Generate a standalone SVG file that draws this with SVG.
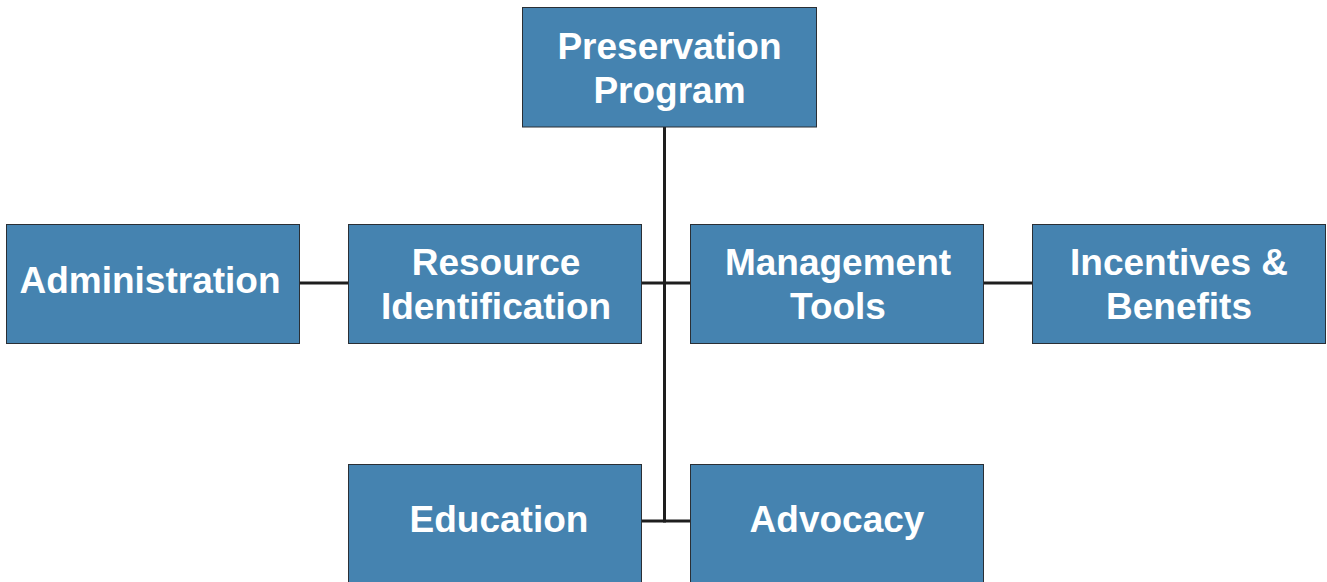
<svg xmlns="http://www.w3.org/2000/svg" width="1327" height="582" viewBox="0 0 1327 582">
  <style>
    .box { fill: #4583b0; stroke: #2a2f35; stroke-width: 1; }
    .lbl { fill: #ffffff; font-family: "Liberation Sans", Arial, sans-serif; font-weight: bold; font-size: 37px; text-anchor: middle; }
    .wire { stroke: #1e1e1e; stroke-width: 3; fill: none; }
  </style>
  <rect width="1327" height="582" fill="#ffffff"/>

  <!-- connectors -->
  <g id="connectors">
    <line class="wire" x1="664.5" y1="127" x2="664.5" y2="522.5"/>
    <line class="wire" x1="299" y1="283" x2="348.5" y2="283"/>
    <line class="wire" x1="641.5" y1="283" x2="690.5" y2="283"/>
    <line class="wire" x1="983.5" y1="283" x2="1032.5" y2="283"/>
    <line class="wire" x1="641.5" y1="521" x2="690.5" y2="521"/>
  </g>

  <g id="preservation-program">
    <rect class="box" x="522.5" y="7.5" width="294" height="119.5"/>
    <text class="lbl" x="669.5" y="59">Preservation</text>
    <text class="lbl" x="669.5" y="103">Program</text>
  </g>

  <g id="administration">
    <rect class="box" x="6.5" y="224.5" width="293" height="119"/>
    <text class="lbl" x="150" y="293">Administration</text>
  </g>

  <g id="resource-identification">
    <rect class="box" x="348.5" y="224.5" width="293" height="119"/>
    <text class="lbl" x="496" y="275">Resource</text>
    <text class="lbl" x="496" y="319">Identification</text>
  </g>

  <g id="management-tools">
    <rect class="box" x="690.5" y="224.5" width="293" height="119"/>
    <text class="lbl" x="838" y="275">Management</text>
    <text class="lbl" x="838" y="319">Tools</text>
  </g>

  <g id="incentives-benefits">
    <rect class="box" x="1032.5" y="224.5" width="293" height="119"/>
    <text class="lbl" x="1179" y="275">Incentives &amp;</text>
    <text class="lbl" x="1179" y="319">Benefits</text>
  </g>

  <g id="education">
    <rect class="box" x="348.5" y="464.5" width="293" height="119"/>
    <text class="lbl" x="499" y="532">Education</text>
  </g>

  <g id="advocacy">
    <rect class="box" x="690.5" y="464.5" width="293" height="119"/>
    <text class="lbl" x="837" y="532">Advocacy</text>
  </g>
</svg>
